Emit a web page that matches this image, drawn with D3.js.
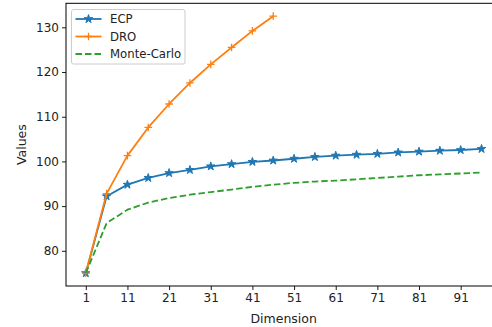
<!DOCTYPE html>
<html>
<head>
<meta charset="utf-8">
<script src="https://cdn.jsdelivr.net/npm/d3@7"></script>
<style>
  body { margin: 0; background: #fff; }
  svg { display: block; overflow: hidden; }
  text { font-family: "DejaVu Sans", sans-serif; fill: #000; }
</style>
</head>
<body>
<div id="chart"></div>
<script>
'use strict';

// dimensions sampled every 5 steps
var ecpDims = [1, 6, 11, 16, 21, 26, 31, 36, 41, 46, 51, 56, 61, 66, 71, 76, 81, 86, 91, 96];
var ecpValues = [75.0, 92.2, 94.8, 96.3, 97.4, 98.1, 98.9, 99.4, 99.9, 100.2,
    100.6, 101.0, 101.3, 101.5, 101.7, 102.0, 102.2, 102.4, 102.55, 102.8];

var droDims = [1, 6, 11, 16, 21, 26, 31, 36, 41, 46];
var droValues = [75.0, 92.8, 101.3, 107.6, 112.85, 117.55, 121.7, 125.5, 129.2, 132.5];

var mcDims = [1, 6, 11, 16, 21, 26, 31, 36, 41, 46, 51, 56, 61, 66, 71, 76, 81, 86, 91, 96];
var mcValues = [75.0, 86.2, 89.2, 90.8, 91.8, 92.55, 93.15, 93.7, 94.3, 94.8,
    95.2, 95.5, 95.7, 96.0, 96.3, 96.6, 96.9, 97.1, 97.3, 97.5];

var xTicks = [1, 11, 21, 31, 41, 51, 61, 71, 81, 91];
var yTicks = [80, 90, 100, 110, 120, 130];

var seriesNames = ["ECP", "DRO", "Monte-Carlo"];
var seriesColors = ["#1f77b4", "#ff7f0e", "#2ca02c"];

var drawChart = function () {
    var width = 492;
    var height = 327;
    var plotLeft = 66, plotRight = 501.3, plotTop = 3.3, plotBottom = 286;

    var svg = d3.select("#chart")
        .append("svg")
        .attr("width", width)
        .attr("height", height);

    var x = d3.scaleLinear()
        .domain([-3.75, 100.75])
        .range([plotLeft, plotRight]);

    var y = d3.scaleLinear()
        .domain([72.125, 135.375])
        .range([plotBottom, plotTop]);

    var series = [
        {name: seriesNames[0], dims: ecpDims, values: ecpValues, color: seriesColors[0], marker: "star", dash: null},
        {name: seriesNames[1], dims: droDims, values: droValues, color: seriesColors[1], marker: "plus", dash: null},
        {name: seriesNames[2], dims: mcDims, values: mcValues, color: seriesColors[2], marker: null, dash: "6.5,3"}
    ];

    var line = d3.line()
        .x(function (d) { return x(d[0]); })
        .y(function (d) { return y(d[1]); });

    var star = d3.symbol().type(d3.symbolStar).size(22);
    var plusPath = "M-3.8,0H3.8M0,-3.8V3.8";

    var drawMarker = function (g, marker, color, px, py) {
        if (marker === "star") {
            g.append("path")
                .attr("d", star())
                .attr("transform", "translate(" + px + "," + py + ")")
                .style("fill", color)
                .style("stroke", color)
                .style("stroke-width", 1);
        } else if (marker === "plus") {
            g.append("path")
                .attr("d", plusPath)
                .attr("transform", "translate(" + px + "," + py + ")")
                .style("fill", "none")
                .style("stroke", color)
                .style("stroke-width", 1.3);
        }
    };

    var plot = svg.append("g");

    series.forEach(function (s) {
        var pts = s.dims.map(function (d, i) { return [d, s.values[i]]; });
        plot.append("path")
            .datum(pts)
            .attr("d", line)
            .style("fill", "none")
            .style("stroke", s.color)
            .style("stroke-width", 1.8)
            .style("stroke-dasharray", s.dash)
            .style("stroke-linejoin", "round");
        pts.forEach(function (p) {
            drawMarker(plot, s.marker, s.color, x(p[0]), y(p[1]));
        });
    });

    // axes
    var xAxis = svg.append("g")
        .attr("transform", "translate(0," + plotBottom + ")")
        .call(d3.axisBottom(x).tickValues(xTicks).tickSize(4).tickPadding(3.5).tickFormat(d3.format("d")));

    var yAxis = svg.append("g")
        .attr("transform", "translate(" + plotLeft + ",0)")
        .call(d3.axisLeft(y).tickValues(yTicks).tickSize(4).tickPadding(3).tickFormat(d3.format("d")));

    [xAxis, yAxis].forEach(function (a) {
        a.select(".domain").remove();
        a.selectAll(".tick line").style("stroke", "#000").style("stroke-width", 0.9);
        a.selectAll(".tick text")
            .style("font-family", "DejaVu Sans")
            .style("font-size", "12px")
            .style("fill", "#222");
    });

    // spines
    svg.append("rect")
        .attr("x", plotLeft)
        .attr("y", plotTop)
        .attr("width", plotRight - plotLeft)
        .attr("height", plotBottom - plotTop)
        .style("fill", "none")
        .style("stroke", "#000")
        .style("stroke-width", 1);

    svg.append("text")
        .attr("x", 283.7)
        .attr("y", 323)
        .style("text-anchor", "middle")
        .style("font-size", "12.5px")
        .style("fill", "#222")
        .text("Dimension");

    svg.append("text")
        .attr("transform", "translate(25.5," + ((plotTop + plotBottom) / 2) + ") rotate(-90)")
        .style("text-anchor", "middle")
        .style("font-size", "12.5px")
        .style("fill", "#222")
        .text("Values");

    // legend
    var legend = svg.append("g");

    legend.append("rect")
        .attr("x", 71.5)
        .attr("y", 9.5)
        .attr("width", 113.5)
        .attr("height", 54.5)
        .attr("rx", 2)
        .style("fill", "#fff")
        .style("fill-opacity", 0.8)
        .style("stroke", "#ccc")
        .style("stroke-width", 1);

    series.forEach(function (s, i) {
        var ly = 19 + i * 17.5;
        legend.append("line")
            .attr("x1", 75.5)
            .attr("x2", 101.5)
            .attr("y1", ly)
            .attr("y2", ly)
            .style("stroke", s.color)
            .style("stroke-width", 1.8)
            .style("stroke-dasharray", s.dash);
        drawMarker(legend, s.marker, s.color, 88.5, ly);
        legend.append("text")
            .attr("x", 110)
            .attr("y", ly + 4.2)
            .style("font-size", "11.7px")
            .style("fill", "#222")
            .text(s.name);
    });
};

drawChart();
</script>
</body>
</html>
